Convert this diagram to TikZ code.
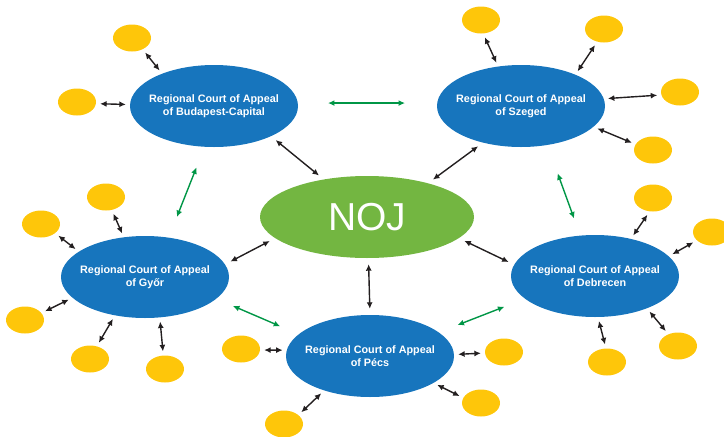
\documentclass[tikz,border=0pt]{standalone}
\usepackage{fontspec}
\setmainfont{Liberation Sans}
\usepackage{tikz}
\usetikzlibrary{shapes.geometric}
\usetikzlibrary{arrows.meta}
\definecolor{courtblue}{RGB}{23,117,189}
\definecolor{nojgreen}{RGB}{115,182,65}
\definecolor{officeyellow}{RGB}{254,198,10}
\definecolor{linkgreen}{RGB}{0,150,70}
\definecolor{linkblack}{RGB}{35,31,32}

\begin{document}
\begin{tikzpicture}[x=1pt,y=-1pt,
			courtnode/.style={ellipse, fill=courtblue, minimum width=168pt, minimum height=82pt, inner sep=0pt},
			courttext/.style={text=white, align=center, font=\fontsize{10.8}{13}\selectfont\bfseries},
			nojnode/.style={ellipse, fill=nojgreen, minimum width=214pt, minimum height=82pt, inner sep=0pt, text=white, font=\fontsize{39}{39}\selectfont},
			officenode/.style={ellipse, fill=officeyellow, minimum width=38pt, minimum height=27pt, inner sep=0pt},
			myarrow/.style={{Latex[length=6.5pt,width=6pt]}-{Latex[length=6.5pt,width=6pt]}, line width=1.4pt, color=linkblack, shorten <=4pt, shorten >=4pt},
			hubarrow/.style={myarrow, shorten <=6pt, shorten >=6pt},
			greenarrow/.style={myarrow, color=linkgreen, shorten <=22pt, shorten >=22pt}
		]

		\useasboundingbox (0,0) rectangle (724,437);

		\node[nojnode] (noj) at (367,217) {NOJ};

		\node[courtnode, label={[courttext]center:{Regional Court of Appeal\\of Budapest-Capital}}] (bud) at (214,106) {};
		\node[courtnode, label={[courttext]center:{Regional Court of Appeal\\of Szeged}}] (sze) at (521,106) {};
		\node[courtnode, label={[courttext]center:{Regional Court of Appeal\\of Győr}}] (gyr) at (145,277) {};
		\node[courtnode, label={[courttext]center:{Regional Court of Appeal\\of Debrecen}}] (deb) at (595,276) {};
		\node[courtnode, label={[courttext]center:{Regional Court of Appeal\\of Pécs}}] (pec) at (370,356) {};

		\node[officenode] (yb1) at (132,38) {};
		\node[officenode] (yb2) at (77,102) {};

		\node[officenode] (ys1) at (481,20) {};
		\node[officenode] (ys2) at (604,29) {};
		\node[officenode] (ys3) at (680,92) {};
		\node[officenode] (ys4) at (653,150) {};

		\node[officenode] (yg1) at (106,197) {};
		\node[officenode] (yg2) at (41,224) {};
		\node[officenode] (yg3) at (25,320) {};
		\node[officenode] (yg4) at (90,359) {};
		\node[officenode] (yg5) at (165,369) {};

		\node[officenode] (yp1) at (241,349) {};
		\node[officenode] (yp2) at (284,424) {};
		\node[officenode] (yp3) at (504,352) {};
		\node[officenode] (yp4) at (481,403) {};

		\node[officenode] (yd1) at (653,198) {};
		\node[officenode] (yd2) at (712,232) {};
		\node[officenode] (yd3) at (678,346) {};
		\node[officenode] (yd4) at (607,362) {};

		\draw[myarrow] (yb1.-47) -- (bud.148);
		\draw[myarrow] (yb2.-5) -- (bud.179);

		\draw[myarrow] (ys1.-81) -- (sze.120);
		\draw[myarrow] (ys2.-118) -- (sze.30);
		\draw[myarrow] (ys3.-171) -- (sze.5);
		\draw[myarrow] (ys4.162) -- (sze.-16);

		\draw[myarrow] (yg1.-66) -- (gyr.118);
		\draw[myarrow] (yg2.-33) -- (gyr.159);
		\draw[myarrow] (yg3.23) -- (gyr.-164);
		\draw[myarrow] (yg4.62) -- (gyr.-128);
		\draw[myarrow] (yg5.97) -- (gyr.-70);

		\draw[myarrow] (yp1.-3) -- (pec.176);
		\draw[myarrow] (yp2.32) -- (pec.-143);
		\draw[myarrow] (yp3.-177) -- (pec.1);
		\draw[myarrow] (yp4.164) -- (pec.-23);

		\draw[myarrow] (yd1.-104) -- (deb.46);
		\draw[myarrow] (yd2.-151) -- (deb.15);
		\draw[myarrow] (yd3.129) -- (deb.-32);
		\draw[myarrow] (yd4.94) -- (deb.-86);

		\draw[hubarrow] (bud.-28) -- (noj.139);
		\draw[hubarrow] (sze.-136) -- (noj.29);
		\draw[hubarrow] (gyr.9) -- (noj.-167);
		\draw[hubarrow] (pec.90) -- (noj.-88);
		\draw[hubarrow] (deb.172) -- (noj.-13);

		\draw[greenarrow, shorten <=30pt, shorten >=32pt] (bud.2) -- (sze.178);
		\draw[greenarrow] (bud.-103) -- (gyr.59);
		\draw[greenarrow, shorten <=30pt, shorten >=18pt] (sze.-56) -- (deb.110);
		\draw[greenarrow, shorten <=18pt, shorten >=20pt] (gyr.-17) -- (pec.163);
		\draw[greenarrow, shorten <=20pt, shorten >=22pt] (pec.19) -- (deb.-162);

	\end{tikzpicture}
\end{document}
